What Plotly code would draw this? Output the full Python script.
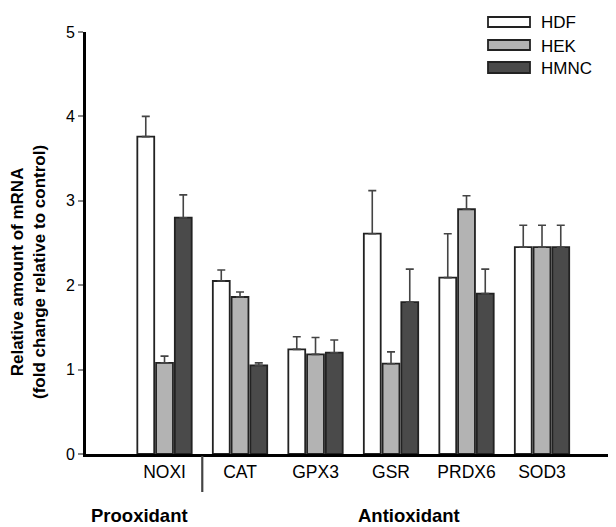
import plotly.graph_objects as go

categories = ["NOXI", "CAT", "GPX3", "GSR", "PRDX6", "SOD3"]
series_names = ["HDF", "HEK", "HMNC"]
hdf = [3.76, 2.05, 1.24, 2.61, 2.09, 2.45]
hek = [1.08, 1.86, 1.18, 1.07, 2.90, 2.45]
hmnc = [2.80, 1.05, 1.20, 1.80, 1.90, 2.45]
hdf_err = [0.24, 0.13, 0.15, 0.51, 0.52, 0.26]
hek_err = [0.08, 0.06, 0.20, 0.14, 0.16, 0.26]
hmnc_err = [0.27, 0.03, 0.15, 0.39, 0.29, 0.26]
y_ticks = [0, 1, 2, 3, 4, 5]
group_labels = ["Prooxidant", "Antioxidant"]

FONT = "Liberation Sans, Arial, sans-serif"
fills = ["#ffffff", "#b3b3b3", "#4a4a4a"]
values = [hdf, hek, hmnc]
errs = [hdf_err, hek_err, hmnc_err]

# page body has an 8px margin: figure is drawn 8px right/down
OFF = 8
W, H = 616 - OFF, 527 - OFF
PL, PT, PR, PB = 86, 32, 616, 454  # plot area in page pixels
L, T = PL - OFF, PT - OFF
R, B = W - (PR - OFF), H - (PB - OFF)
PW, PH = PR - PL, PB - PT


def px(x):
    return (x - PL) / PW


def py(y):
    return (PB - y) / PH


fig = go.Figure()
for name, vals, err, col in zip(series_names, values, errs, fills):
    fig.add_trace(go.Bar(
        x=categories, y=vals, name=name,
        marker=dict(color=col, line=dict(color="#222222", width=1.8)),
        error_y=dict(type="data", array=err, arrayminus=[0] * len(err),
                     symmetric=False, color="#444444", thickness=1.6, width=4),
        showlegend=False,
    ))

shapes = []
annotations = []
# custom legend (wide rectangles)
leg_boxes = [(17, 27), (40, 50), (62, 73)]
leg_text_y = [23, 46, 68]
for name, col, (y0, y1), ty in zip(series_names, fills, leg_boxes, leg_text_y):
    shapes.append(dict(type="rect", xref="paper", yref="paper",
                       x0=px(488), x1=px(530), y0=py(y1), y1=py(y0),
                       fillcolor=col, line=dict(color="#222222", width=1.8)))
    annotations.append(dict(text=name, xref="paper", yref="paper",
                            x=px(539), y=py(ty), xanchor="left", yanchor="middle",
                            showarrow=False, font=dict(size=17, color="black", family=FONT)))

# separator between groups
shapes.append(dict(type="line", xref="x", yref="paper", x0=0.5, x1=0.5,
                   y0=py(456), y1=py(492), line=dict(color="#444444", width=2.2)))

# group labels
annotations.append(dict(text="<b>" + group_labels[0] + "</b>", xref="paper", yref="paper",
                        x=px(139), y=py(515), xanchor="center", yanchor="middle",
                        showarrow=False, font=dict(size=18.5, color="black", family=FONT)))
annotations.append(dict(text="<b>" + group_labels[1] + "</b>", xref="paper", yref="paper",
                        x=px(409), y=py(515), xanchor="center", yanchor="middle",
                        showarrow=False, font=dict(size=18.5, color="black", family=FONT)))

# y-axis title
annotations.append(dict(text="<b>Relative amount of mRNA<br>(fold change relative to control)</b>",
                        xref="paper", yref="paper", x=px(28), y=py(272),
                        xanchor="center", yanchor="middle", textangle=-90,
                        showarrow=False, font=dict(size=17, color="black", family=FONT)))

fig.update_layout(
    width=W, height=H,
    margin=dict(l=L, r=R, t=T, b=B, pad=0),
    paper_bgcolor="white", plot_bgcolor="white",
    barmode="group", bargap=0.255, bargroupgap=0.1,
    font=dict(family=FONT, color="black"),
    shapes=shapes, annotations=annotations,
    showlegend=False,
)
fig.update_xaxes(
    type="category", range=[-1.04, 5.98],
    showline=True, linecolor="black", linewidth=2.5,
    ticks="", showgrid=False, zeroline=False,
    tickfont=dict(size=17.5, color="black", family=FONT),
)
fig.update_yaxes(
    range=[0, 5], tickvals=y_ticks,
    showline=True, linecolor="black", linewidth=3,
    ticks="outside", ticklen=5, tickcolor="#888888", tickwidth=1.5,
    showgrid=False, zeroline=False,
    tickfont=dict(size=16, color="black", family=FONT),
)

fig.write_html("out.html")
